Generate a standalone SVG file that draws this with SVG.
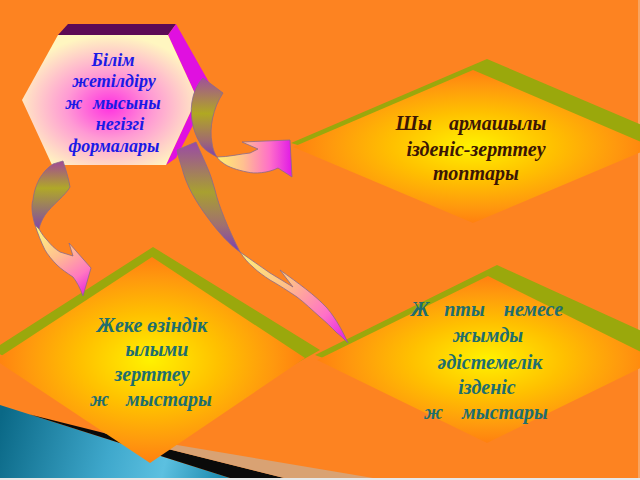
<svg xmlns="http://www.w3.org/2000/svg" width="640" height="480" viewBox="0 0 640 480">
<defs>
<style>
.ar{stroke:#8a6a8a;stroke-width:0.8;stroke-linejoin:round}
.t{font-family:"Liberation Serif","DejaVu Serif",serif;font-style:italic;font-weight:bold}
.hx{fill:#1a1ae6;font-size:18px}
.tr{fill:#3c1505;font-size:20px}
.tl{fill:#1e6e6e;font-size:20px}
.grn{fill:#9aa80c}
</style>
<radialGradient id="hexg" cx="0.5" cy="0.55" r="0.55">
<stop offset="0" stop-color="#ff30e0"/>
<stop offset="0.45" stop-color="#ff9ad4"/>
<stop offset="1" stop-color="#fff6c0"/>
</radialGradient>
<radialGradient id="dia" cx="0.5" cy="0.5" r="0.5">
<stop offset="0" stop-color="#fff200"/>
<stop offset="0.45" stop-color="#ffc000"/>
<stop offset="0.8" stop-color="#ff980e"/>
<stop offset="1" stop-color="#ff8010"/>
</radialGradient>
<linearGradient id="teal" gradientUnits="userSpaceOnUse" x1="0" y1="420" x2="220" y2="478">
<stop offset="0" stop-color="#0a6886"/>
<stop offset="0.5" stop-color="#3fa8cc"/>
<stop offset="0.75" stop-color="#5cc0e0"/>
<stop offset="1" stop-color="#1e8cb0"/>
</linearGradient>
<linearGradient id="a1v" gradientUnits="userSpaceOnUse" x1="0" y1="78" x2="0" y2="157">
<stop offset="0" stop-color="#a0509a"/>
<stop offset="0.45" stop-color="#b0a822"/>
<stop offset="0.8" stop-color="#a06a70"/>
<stop offset="1" stop-color="#8040b0"/>
</linearGradient>
<linearGradient id="a1h" gradientUnits="userSpaceOnUse" x1="217" y1="0" x2="292" y2="0">
<stop offset="0" stop-color="#fff070"/>
<stop offset="0.35" stop-color="#ffc090"/>
<stop offset="0.7" stop-color="#ff70c8"/>
<stop offset="1" stop-color="#e018e8"/>
</linearGradient>
<linearGradient id="a2v" gradientUnits="userSpaceOnUse" x1="0" y1="142" x2="0" y2="253">
<stop offset="0" stop-color="#9a48a8"/>
<stop offset="0.45" stop-color="#a8a030"/>
<stop offset="0.75" stop-color="#a07070"/>
<stop offset="1" stop-color="#7a3cb8"/>
</linearGradient>
<linearGradient id="a2l" gradientUnits="userSpaceOnUse" x1="240" y1="252" x2="348" y2="343">
<stop offset="0" stop-color="#fff078"/>
<stop offset="0.4" stop-color="#ffc088"/>
<stop offset="0.75" stop-color="#ff70c8"/>
<stop offset="1" stop-color="#e018e8"/>
</linearGradient>
<linearGradient id="a3v" gradientUnits="userSpaceOnUse" x1="0" y1="161" x2="0" y2="229">
<stop offset="0" stop-color="#a04898"/>
<stop offset="0.4" stop-color="#b0a828"/>
<stop offset="1" stop-color="#8048a8"/>
</linearGradient>
<linearGradient id="a3l" gradientUnits="userSpaceOnUse" x1="38" y1="230" x2="85" y2="296">
<stop offset="0" stop-color="#fff480"/>
<stop offset="0.4" stop-color="#ffc090"/>
<stop offset="0.75" stop-color="#ff78c0"/>
<stop offset="1" stop-color="#e820e0"/>
</linearGradient>
</defs>

<rect x="0" y="0" width="640" height="480" fill="#fd8321"/>
<rect x="638" y="0" width="2" height="480" fill="#f8a460"/>

<g id="decor">
<polygon points="0,405 230,478 0,478" fill="url(#teal)"/>
<polygon points="30,414.5 284,478 230,478" fill="#0a0a0a"/>
<polygon points="101,432.3 373,478 284,478" fill="#d9a273"/>
<rect x="0" y="478" width="640" height="2" fill="#e8e8e8"/>
</g>

<g id="node-research-groups">
<polygon class="grn" points="291,143 487,59 670,137 480,200"/>
<polygon fill="url(#dia)" points="473,70 653,147 473,223 293,147"/>
<text class="t tr" text-anchor="middle"><tspan x="471" y="130">Шы<tspan dx="12"> армашылы</tspan></tspan><tspan x="476" y="156">ізденіс-зерттеу</tspan><tspan x="476" y="180">топтары</tspan></text>
</g>

<g id="node-individual-research">
<polygon class="grn" points="-8,350 153,247 320,350 160,440"/>
<polygon fill="url(#dia)" points="152,257 305,358 150,463 -5,360"/>
<text class="t tl" text-anchor="middle"><tspan x="152" y="332">Жеке өзіндік</tspan><tspan x="157" y="356">ылыми</tspan><tspan x="152" y="381">зерттеу</tspan><tspan x="151" y="406">ж<tspan dx="12"> мыстары</tspan></tspan></text>
</g>

<g id="node-group-methodical">
<polygon class="grn" points="315,355 497,265 672,345 490,420"/>
<polygon fill="url(#dia)" points="488,276 657,360 487,443 317,360"/>
<text class="t tl" text-anchor="middle"><tspan x="487" y="316">Ж<tspan dx="10"> пты</tspan><tspan dx="14"> немесе</tspan></tspan><tspan x="488" y="342">жымды</tspan><tspan x="490" y="369">әдістемелік</tspan><tspan x="487" y="394">ізденіс</tspan><tspan x="486" y="419">ж<tspan dx="14"> мыстары</tspan></tspan></text>
</g>

<g id="node-main">
<polygon fill="#5c0a55" points="58,35 68,24 176,24 168,35"/>
<polygon fill="#e010e0" points="168,35 176,24 210,84 206,100 176,158 166,165 197,98"/>
<polygon fill="url(#hexg)" points="58,35 168,35 197,98 166,165 52,165 22,100"/>
<text class="t hx" text-anchor="middle"><tspan x="113" y="66">Білім</tspan><tspan x="114" y="87">жетілдіру</tspan><tspan x="113" y="109">ж<tspan dx="6"> мысыны</tspan></tspan><tspan x="120" y="130">негізгі</tspan><tspan x="114" y="152">формалары</tspan></text>
</g>

<g id="connectors">
<g id="arrow-main-to-research">
<path class="ar" fill="url(#a1v)" d="M203,78 L223,93 C213,108 209,128 212,143 C213,150 215,154 217,157 C208,152 202,148 200,143 C192,130 189,112 193,97 C195,89 199,82 203,78 Z"/>
<path class="ar" fill="url(#a1h)" d="M217,157 C228,157 240,154 250,153 L258,149 L242,142 L290,140 L292,177 L278,168 C268,173 255,174 247,172 C237,170 228,167 223,163 C220,161 218,159 217,157 Z"/>
</g>
<g id="arrow-main-to-group">
<path class="ar" fill="url(#a2v)" d="M177,150 L196,142 C203,158 209,170 212,180 L215,190 C219,207 228,228 240,252 C230,245 218,232 208,218 C196,202 186,185 182,168 C180,162 178,156 177,150 Z"/>
<path class="ar" fill="url(#a2l)" d="M240,252 C250,259 260,266 270,273 L293,287 L280,270 C298,283 315,295 327,308 C337,320 343,332 348,343 C344,339 341,336 337,333 C331,327 326,322 320,317 C312,310 305,303 297,297 C288,291 279,285 270,280 C264,276 258,272 253,267 C248,263 244,258 240,252 Z"/>
</g>
<g id="arrow-main-to-individual">
<path class="ar" fill="url(#a3v)" d="M53,164 L63,161 C66,170 69,180 70,187 C66,195 52,205 45,215 C42,220 40,224 39,229 L35,225 C32,215 31,205 33,200 C34,190 38,180 42,175 C45,170 49,167 53,164 Z"/>
<path class="ar" fill="url(#a3l)" d="M39,229 C42,234 44,237 47,240 C51,245 55,249 60,252 L73,256 L69,243 L91,268 L83,296 C80,288 77,282 73,277 C67,273 61,269 57,265 C52,260 48,255 45,250 C41,242 38,234 35,225 Z"/>
</g>
</g>
</svg>
